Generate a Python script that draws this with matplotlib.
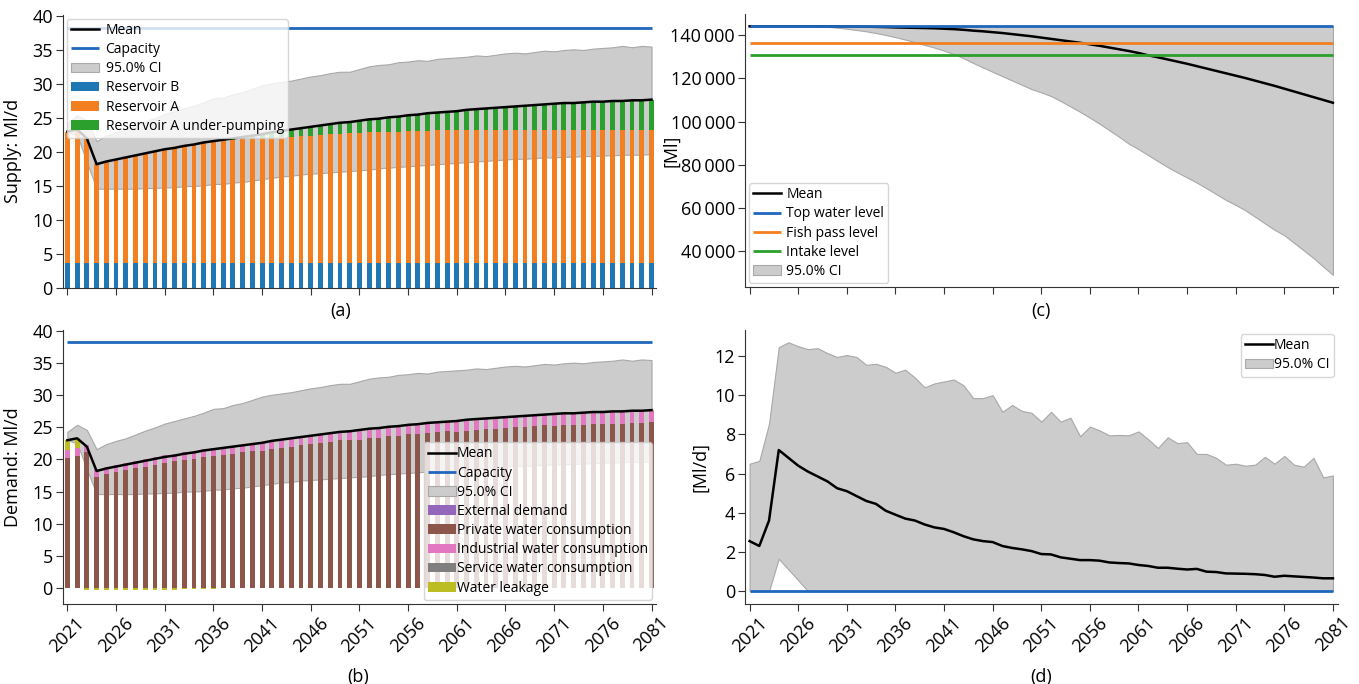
import matplotlib
matplotlib.use("Agg")
import matplotlib.pyplot as plt
from matplotlib.ticker import FuncFormatter

plt.rcParams['font.family'] = ['Open Sans', 'DejaVu Sans']
plt.rcParams['font.size'] = 13

years = list(range(2021, 2082))

# (a) supply, Ml/d
supply_mean = [23.0, 23.3, 22.0, 18.2, 18.6, 18.9, 19.2, 19.5, 19.8, 20.1,
               20.4, 20.6, 20.9, 21.1, 21.4, 21.6, 21.8, 22.0, 22.2, 22.4,
               22.6, 22.9, 23.1, 23.3, 23.5, 23.7, 23.9, 24.1, 24.3, 24.4,
               24.6, 24.8, 24.9, 25.1, 25.2, 25.4, 25.5, 25.7, 25.8, 25.9,
               26.0, 26.2, 26.3, 26.4, 26.5, 26.6, 26.7, 26.8, 26.9, 27.0,
               27.1, 27.2, 27.2, 27.3, 27.4, 27.4, 27.5, 27.5, 27.6, 27.6, 27.7]
ci_upper = [24.3, 25.4, 24.6, 21.6, 22.4, 22.9, 23.3, 23.9, 24.5, 25.0,
            25.6, 26.0, 26.4, 26.8, 27.3, 27.9, 28.0, 28.5, 28.8, 29.3,
            29.8, 30.1, 30.3, 30.5, 30.8, 31.1, 31.3, 31.6, 31.8, 31.8,
            32.2, 32.6, 32.8, 32.9, 33.2, 33.3, 33.5, 33.4, 33.7, 33.8,
            33.9, 34.0, 34.2, 34.1, 34.3, 34.5, 34.6, 34.5, 34.7, 34.9,
            34.8, 35.0, 35.1, 35.0, 35.2, 35.3, 35.4, 35.6, 35.4, 35.6, 35.5]
ci_lower = [23.0, 22.5, 18.5, 14.6, 14.6, 14.6, 14.6, 14.6, 14.7, 14.7,
            14.8, 14.8, 15.0, 15.0, 15.1, 15.3, 15.3, 15.5, 15.6, 15.8,
            16.0, 16.2, 16.4, 16.5, 16.7, 16.8, 16.9, 17.0, 17.1, 17.2,
            17.3, 17.4, 17.6, 17.7, 17.8, 17.9, 18.0, 18.1, 18.2, 18.3,
            18.4, 18.5, 18.6, 18.7, 18.8, 18.9, 19.0, 19.0, 19.1, 19.2,
            19.2, 19.3, 19.3, 19.4, 19.4, 19.5, 19.5, 19.6, 19.6, 19.6, 19.7]
res_b = [3.6] * 61
res_a = [19.4, 19.7, 18.4, 14.6, 15.0, 15.3, 15.6, 15.9, 16.2, 16.5,
         16.8, 17.0, 17.3, 17.5, 17.8, 18.0, 18.1, 18.2, 18.3, 18.4,
         18.4, 18.5, 18.6, 18.6, 18.7, 18.8, 18.9, 19.0, 19.1, 19.2,
         19.2, 19.3, 19.3, 19.4, 19.4, 19.5, 19.5, 19.5, 19.6, 19.6,
         19.6, 19.6, 19.6, 19.6, 19.6, 19.6, 19.6, 19.6, 19.6, 19.6,
         19.6, 19.6, 19.6, 19.6, 19.6, 19.6, 19.6, 19.6, 19.6, 19.6, 19.6]
under_pump = [0.0, 0.0, 0.0, 0.0, 0.0, 0.0, 0.0, 0.0, 0.0, 0.0,
              0.0, 0.0, 0.0, 0.0, 0.0, 0.0, 0.1, 0.2, 0.3, 0.4,
              0.6, 0.8, 0.9, 1.1, 1.2, 1.3, 1.4, 1.5, 1.6, 1.6,
              1.8, 1.9, 2.0, 2.1, 2.2, 2.3, 2.4, 2.6, 2.6, 2.7,
              2.8, 3.0, 3.1, 3.2, 3.3, 3.4, 3.5, 3.6, 3.7, 3.8,
              3.9, 4.0, 4.0, 4.1, 4.2, 4.2, 4.3, 4.3, 4.4, 4.4, 4.5]
capacity = 38.3

# (b) demand, Ml/d
external = [0.0] * 61
private = [20.3, 20.6, 21.1, 17.3, 17.7, 18.0, 18.3, 18.6, 18.9, 19.2,
           19.5, 19.7, 19.9, 20.1, 20.4, 20.6, 20.7, 20.9, 21.1, 21.3,
           21.3, 21.6, 21.8, 22.0, 22.2, 22.4, 22.6, 22.8, 23.0, 23.1,
           23.1, 23.3, 23.4, 23.6, 23.7, 23.9, 24.0, 24.2, 24.3, 24.4,
           24.3, 24.5, 24.6, 24.7, 24.8, 24.9, 25.0, 25.1, 25.2, 25.3,
           25.2, 25.3, 25.3, 25.4, 25.5, 25.5, 25.6, 25.6, 25.7, 25.7, 25.8]
industrial = [1.2] * 20 + [1.3] * 10 + [1.4] * 10 + [1.6] * 10 + [1.8] * 11
service = [0.0] * 61
leakage = [1.5, 1.5, -0.3, -0.3, -0.3, -0.3, -0.3, -0.3, -0.3, -0.3,
           -0.3, -0.3, -0.2, -0.2, -0.2, -0.2, -0.1, -0.1, -0.1, -0.1,
           0.0, 0.0, 0.0, 0.0, 0.0, 0.0, 0.0, 0.0, 0.0, 0.0] + [0.1] * 31

# (c) storage, Ml
storage_mean = [144000] * 10 + [
    143950, 143900, 143850, 143750, 143650, 143500, 143400, 143300, 143200, 143100,
    142900, 142700, 142400, 142000, 141700, 141300, 140900, 140400, 139900, 139400,
    138800, 138200, 137600, 137000, 136400, 135700, 135000, 134200, 133400, 132600,
    131700, 130600, 129700, 128700, 127700, 126700, 125600, 124500, 123400, 122300,
    121200, 120100, 118900, 117700, 116500, 115200, 113900, 112600, 111300, 110000, 108700]
storage_lower = [144000] * 8 + [
    143800, 143400, 142900, 142300, 141700, 140900, 140000, 139000, 137900, 136700,
    135400, 134200, 132800, 131200, 129300, 127100, 125000, 123000, 121000, 119000,
    117000, 115000, 113500, 111800, 109500, 107000, 104500, 101800, 99000, 96000,
    93000, 89800, 87300, 84500, 81700, 79000, 76500, 74200, 71800, 69200,
    66500, 63800, 61500, 59000, 56000, 53000, 50000, 47500, 44000, 40500,
    37000, 33000, 29200]
storage_upper = [144000] * 61
top_water = 144000
fish_pass = 136500
intake = 130700

# (d) deficit, Ml/d
deficit_mean = [2.55, 2.3, 3.6, 7.2, 6.8, 6.4, 6.1, 5.85, 5.6, 5.25,
                5.1, 4.85, 4.6, 4.45, 4.1, 3.9, 3.7, 3.6, 3.4, 3.25,
                3.17, 3.0, 2.8, 2.64, 2.55, 2.5, 2.3, 2.2, 2.13, 2.04,
                1.89, 1.87, 1.72, 1.65, 1.58, 1.58, 1.55, 1.46, 1.43, 1.41,
                1.33, 1.28, 1.19, 1.19, 1.14, 1.1, 1.13, 0.99, 0.97, 0.9,
                0.89, 0.88, 0.86, 0.82, 0.73, 0.78, 0.75, 0.72, 0.69, 0.65, 0.65]
deficit_upper = [6.5, 6.65, 8.55, 12.45, 12.7, 12.5, 12.35, 12.4, 12.15, 11.95,
                 12.05, 11.95, 11.55, 11.6, 11.45, 11.15, 11.3, 10.9, 10.4, 10.6,
                 10.7, 10.8, 10.5, 9.85, 9.85, 10.0, 9.15, 9.5, 9.2, 9.1,
                 8.65, 9.15, 8.65, 8.85, 7.9, 8.4, 8.2, 7.95, 7.97, 7.95,
                 8.15, 7.75, 7.3, 7.85, 7.55, 7.6, 7.0, 7.0, 6.8, 6.45,
                 6.5, 6.4, 6.45, 6.85, 6.5, 6.9, 6.45, 6.35, 6.8, 5.8, 5.9]
deficit_lower = [0.0, 0.0, 0.0, 1.65, 1.1, 0.55] + [0.0] * 55
deficit_ref = 0.0

blue = '#1f67bd'
ci_face = '#cccccc'
ci_edge = '#a8a8a8'
w = 0.5
leg_kw = dict(fontsize=10, labelspacing=0.3, borderaxespad=0.3, borderpad=0.3)

fig = plt.figure(figsize=(13.59, 6.84), dpi=100)
ax_a = fig.add_axes([0.046, 0.579, 0.437, 0.3996])
ax_b = fig.add_axes([0.046, 0.117, 0.437, 0.4006])
ax_c = fig.add_axes([0.548, 0.580, 0.4364, 0.3997])
ax_d = fig.add_axes([0.548, 0.117, 0.4364, 0.4006])

# (a)
ax_a.fill_between(years, ci_lower, ci_upper, facecolor=ci_face, edgecolor=ci_edge,
                  lw=0.8, zorder=1, label='95.0% CI')
ax_a.bar(years, res_b, w, color='#1f77b4', zorder=2, label='Reservoir B')
ax_a.bar(years, res_a, w, bottom=res_b, color='#f47f20', zorder=2, label='Reservoir A')
bot = [b + a for b, a in zip(res_b, res_a)]
ax_a.bar(years, under_pump, w, bottom=bot, color='#2ca02c', zorder=2,
         label='Reservoir A under-pumping')
ax_a.plot(years, supply_mean, color='black', lw=1.8, zorder=3, label='Mean')
ax_a.hlines(capacity, years[0], years[-1], color=blue, lw=2, zorder=3, label='Capacity')
h, lab = ax_a.get_legend_handles_labels()
order = [lab.index(s) for s in ['Mean', 'Capacity', '95.0% CI', 'Reservoir B',
                                'Reservoir A', 'Reservoir A under-pumping']]
ax_a.legend([h[i] for i in order], [lab[i] for i in order], loc='upper left',
            handletextpad=0.5, **leg_kw)
ax_a.set_ylim(0, 40.2)
ax_a.set_yticks(range(0, 41, 5))
ax_a.set_ylabel('Supply: Ml/d')
ax_a.yaxis.set_label_coords(-0.068, 0.5)

# (b)
ax_b.fill_between(years, ci_lower, ci_upper, facecolor=ci_face, edgecolor=ci_edge,
                  lw=0.8, zorder=1, label='95.0% CI')
ax_b.bar(years, external, w, color='#9467bd', zorder=2, label='External demand')
ax_b.bar(years, private, w, color='#8c564b', zorder=2, label='Private water consumption')
pos = [e + p for e, p in zip(external, private)]
ax_b.bar(years, industrial, w, bottom=pos, color='#e377c2', zorder=2,
         label='Industrial water consumption')
pos = [p + i for p, i in zip(pos, industrial)]
ax_b.bar(years, service, w, bottom=pos, color='#7f7f7f', zorder=2,
         label='Service water consumption')
pos = [p + s for p, s in zip(pos, service)]
leak_bot = [p if l > 0 else 0 for p, l in zip(pos, leakage)]
ax_b.bar(years, leakage, w, bottom=leak_bot, color='#bcbd22', zorder=2, label='Water leakage')
ax_b.plot(years, supply_mean, color='black', lw=1.8, zorder=3, label='Mean')
ax_b.hlines(capacity, years[0], years[-1], color=blue, lw=2, zorder=3, label='Capacity')
h, lab = ax_b.get_legend_handles_labels()
order = [lab.index(s) for s in ['Mean', 'Capacity', '95.0% CI', 'External demand',
                                'Private water consumption', 'Industrial water consumption',
                                'Service water consumption', 'Water leakage']]
ax_b.legend([h[i] for i in order], [lab[i] for i in order], loc='lower right',
            handletextpad=0.1, **leg_kw)
ax_b.set_ylim(-2.54, 40.2)
ax_b.set_yticks(range(0, 41, 5))
ax_b.set_ylabel('Demand: Ml/d')
ax_b.yaxis.set_label_coords(-0.068, 0.5)

# (c)
ax_c.plot(years, storage_mean, color='black', lw=1.8, zorder=3, label='Mean')
ax_c.hlines(top_water, years[0], years[-1], color=blue, lw=2, zorder=3, label='Top water level')
ax_c.hlines(fish_pass, years[0], years[-1], color='#f47f20', lw=2, zorder=3, label='Fish pass level')
ax_c.hlines(intake, years[0], years[-1], color='#2ca02c', lw=2, zorder=3, label='Intake level')
ax_c.fill_between(years, storage_lower, storage_upper, facecolor=ci_face, edgecolor=ci_edge,
                  lw=0.8, zorder=1, label='95.0% CI')
ax_c.legend(loc='lower left', handletextpad=0.4, **leg_kw)
ax_c.set_ylim(23460, 149750)
ax_c.set_yticks([40000, 60000, 80000, 100000, 120000, 140000])
ax_c.yaxis.set_major_formatter(FuncFormatter(lambda v, p: f'{v:,.0f}'.replace(',', '\u2009')))
ax_c.set_ylabel('[Ml]')
ax_c.yaxis.set_label_coords(-0.108, 0.5)

# (d)
ax_d.fill_between(years, deficit_lower, deficit_upper, facecolor=ci_face, edgecolor=ci_edge,
                  lw=0.8, zorder=1, label='95.0% CI')
ax_d.plot(years, deficit_mean, color='black', lw=1.8, zorder=3, label='Mean')
ax_d.hlines(deficit_ref, years[0], years[-1], color=blue, lw=2, zorder=3)
h, lab = ax_d.get_legend_handles_labels()
ax_d.legend([h[1], h[0]], [lab[1], lab[0]], loc='upper right', handletextpad=0.1, **leg_kw)
ax_d.set_ylim(-0.66, 13.33)
ax_d.set_yticks([0, 2, 4, 6, 8, 10, 12])
ax_d.set_ylabel('[Ml/d]')
ax_d.yaxis.set_label_coords(-0.06, 0.5)

xt = list(range(2021, 2082, 5))
for ax in (ax_a, ax_b, ax_c, ax_d):
    ax.set_xlim(2020.5, 2081.5)
    ax.set_xticks(xt)
    ax.spines['top'].set_visible(False)
    ax.spines['right'].set_visible(False)
    ax.spines['left'].set_color('#333333')
    ax.spines['bottom'].set_color('#333333')
    ax.tick_params(labelsize=13, color='#333333', length=5, pad=2)
for ax in (ax_a, ax_c):
    ax.tick_params(labelbottom=False)
for ax in (ax_b, ax_d):
    ax.set_xticklabels([str(y) for y in xt], rotation=45)

fig.text(341 / 1359, 1 - 311 / 684, '(a)', ha='center', va='center', fontsize=13)
fig.text(358 / 1359, 1 - 677 / 684, '(b)', ha='center', va='center', fontsize=13)
fig.text(1041 / 1359, 1 - 311 / 684, '(c)', ha='center', va='center', fontsize=13)
fig.text(1041 / 1359, 1 - 677 / 684, '(d)', ha='center', va='center', fontsize=13)

fig.savefig('out.png', dpi=100)
